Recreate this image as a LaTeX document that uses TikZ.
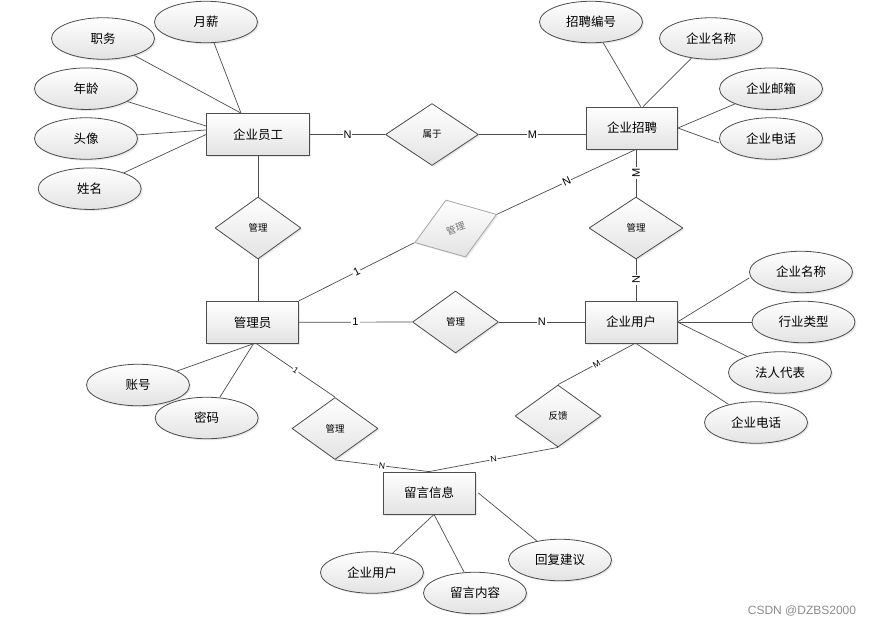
\documentclass[tikz,border=0pt]{standalone}
\usepackage{fontspec}
\setmainfont{Noto Sans CJK SC}
\newfontfamily\latin{Liberation Sans}
\usepackage{tikz}
\usetikzlibrary{shapes.geometric,shadows,backgrounds}

\begin{document}
\begin{tikzpicture}[line cap=round,line join=round,x=1pt,y=-1pt,
  box/.style={draw=black!70,line width=0.8pt,inner sep=0pt,top color=white,bottom color=black!11,
    drop shadow={opacity=0.18,shadow xshift=1.5pt,shadow yshift=-1.5pt}},
  ent/.style={box,rectangle,minimum width=92pt,minimum height=42pt,font=\fontsize{12.5}{14}\selectfont},
  attr/.style={box,ellipse,minimum width=103pt,minimum height=41.5pt,font=\fontsize{12.5}{14}\selectfont},
  rel/.style={box,diamond,minimum width=86pt,minimum height=62pt,font=\fontsize{9.5}{11}\selectfont},
  link/.style={draw=black!70,line width=0.7pt},
  card/.style={fill=white,inner sep=1pt,font=\latin\fontsize{11}{12}\selectfont},
  cardsm/.style={card,font=\latin\fontsize{8.5}{9}\selectfont}]
\useasboundingbox (0,0) rectangle (876,627);

\node[ent,minimum width=103pt] (ee) at (258,134.5) {企业员工};
\node[ent,minimum width=91pt] (zp) at (632,128) {企业招聘};
\node[ent] (gly) at (252.5,322.3) {管理员};
\node[ent] (yh) at (631,322) {企业用户};
\node[ent] (ly) at (429,493) {留言信息};

\node[attr] (yx) at (206,22) {月薪};
\node[attr] (zw) at (103,38.5) {职务};
\node[attr] (nl) at (86,88.7) {年龄};
\node[attr] (tx) at (86,138.5) {头像};
\node[attr] (xm) at (89.7,188.7) {姓名};
\node[attr] (zpbh) at (591,22) {招聘编号};
\node[attr] (zpmc) at (711,38.5) {企业名称};
\node[attr] (zpyx) at (771,88.7) {企业邮箱};
\node[attr] (zpdh) at (771,138.5) {企业电话};
\node[attr] (yhmc) at (801,272) {企业名称};
\node[attr] (hylx) at (803.5,322) {行业类型};
\node[attr] (frdb) at (780,372.5) {法人代表};
\node[attr] (yhdh) at (756,422.5) {企业电话};
\node[attr] (zh) at (138,385) {账号};
\node[attr] (mm) at (206.7,418) {密码};
\node[attr] (lyyh) at (372,572.5) {企业用户};
\node[attr] (lynr) at (475,593) {留言内容};
\node[attr] (hfjy) at (560,560) {回复建议};

\node[rel,minimum width=93pt] (sy) at (432,134.5) {属于};
\node[rel] (gl1) at (258,228) {管理};
\node[rel,minimum width=94pt] (gl2) at (636,228) {管理};
\node[rel] (gl3) at (455.5,322) {管理};
\node[rel] (gl4) at (335,428.5) {管理};
\node[rel] (fk) at (558,416) {反馈};
\node[rel,rotate=19,draw=black!35,text=black!55,minimum width=86.6pt,minimum height=60.4pt] (glx) at (455.7,228.5) {管理};

\node[text=black!45,font=\latin\fontsize{12}{14}\selectfont] (wm) at (802,611) {CSDN @DZBS2000};

\begin{scope}[on background layer]
\draw[link] (yx) -- ([xshift=-17pt]ee.north);
\draw[link] (zw) -- ([xshift=-17pt]ee.north);
\draw[link] (nl) -- ([yshift=8.5pt]ee.west);
\draw[link] (tx) -- ([yshift=4.5pt]ee.west);
\draw[link] (xm) -- (ee.west);
\draw[link] (zpbh) -- ([xshift=8.7pt]zp.north);
\draw[link] (zpmc) -- ([xshift=11pt]zp.north);
\draw[link] (zpyx) -- (zp.east);
\draw[link] ([yshift=-4.5pt]zpdh.west) -- (zp.east);
\draw[link] ([yshift=-6pt]yhmc.west) -- (yh.east);
\draw[link] (hylx) -- (yh.east);
\draw[link] (frdb) -- (yh.east);
\draw[link] (yhdh) -- ([xshift=5pt]yh.south);
\draw[link] (zh) -- ([xshift=1pt]gly.south);
\draw[link] (mm) -- ([xshift=1pt]gly.south);
\draw[link] (lyyh) -- ([xshift=5pt]ly.south);
\draw[link] (lynr) -- ([xshift=5pt]ly.south);
\draw[link] (hfjy) -- ([xshift=3pt]ly.east);

\draw[link] (ee.east) -- node[card]{N} (sy.west);
\draw[link] (sy.east) -- node[card]{M} (sy.east -| zp.west);
\draw[link] (ee.south) -- (gl1.north);
\draw[link] (gl1.south) -- (gl1.south |- gly.north);
\draw[link] (gly.north east) -- node[card,sloped]{1} (glx.west);
\draw[link] (glx.east) -- node[card,sloped]{N} (gl2.north |- zp.south);
\draw[link] (gl2.north |- zp.south) -- node[card,rotate=90]{M} (gl2.north);
\draw[link] (gl2.south) -- node[card,rotate=90]{N} (gl2.south |- yh.north);
\draw[link] (gly.east) -- node[card]{1} (gl3.west);
\draw[link] (gl3.east) -- node[card]{N} (yh.west);
\draw[link] ([xshift=4pt]gly.south) -- node[cardsm,sloped]{1} (gl4.north);
\draw[link] (gl4.south) -- node[cardsm,sloped]{N} (ly.north);
\draw[link] (fk.south) -- node[cardsm,sloped]{N} (ly.north);
\draw[link] ([xshift=4pt]yh.south) -- node[cardsm,sloped]{M} (fk.north);
\end{scope}
\end{tikzpicture}
\end{document}
